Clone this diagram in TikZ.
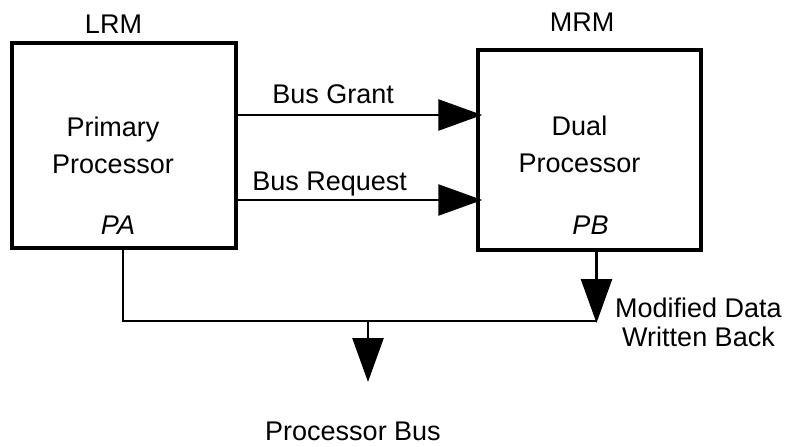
\documentclass[tikz,border=0pt]{standalone}
\usepackage{fontspec}
\setmainfont{Liberation Sans}
\usetikzlibrary{arrows.meta,positioning}

\begin{document}
\begin{tikzpicture}[x=1pt,y=-1pt,
    >={Triangle[length=44pt,width=31pt]},
    box/.style={draw,line width=3.5pt,inner sep=0pt},
    wire/.style={line width=2.6pt},
    txt/.style={font=\fontsize{27}{37}\selectfont,align=center,inner sep=0pt}]
    \useasboundingbox (0,0) rectangle (790,447);

    % the two processors
    \node[box,minimum width=224pt,minimum height=205pt] (pp) at (124,145.5) {};
    \node[box,minimum width=223pt,minimum height=200pt] (dp) at (589.5,150) {};

    \node[txt] (pptext) at ([xshift=-11pt]pp.center) {Primary\\Processor};
    \node[txt,anchor=base] (pa) at ([xshift=-6pt,yshift=15pt]pp.south) {\itshape PA};
    \node[txt,anchor=base] (lrm) at ([xshift=-10.5pt,yshift=8pt]pp.north) {LRM};

    \node[txt] (dptext) at ([xshift=-10pt,yshift=6pt]dp.center) {Dual\\Processor};
    \node[txt,anchor=base] (pb) at ([xshift=1pt,yshift=17pt]dp.south) {\itshape PB};
    \node[txt,anchor=base] (mrm) at ([xshift=-7.5pt,yshift=17pt]dp.north) {MRM};

    % handshake lines
    \coordinate (grant) at ([yshift=30.5pt]pp.east);
    \coordinate (req) at ([yshift=-54.5pt]pp.east);
    \draw[wire,->,shorten >=-6pt] (grant) -- (grant -| dp.west)
        node[txt,pos=0.4,anchor=base,yshift=12pt] {Bus Grant};
    \draw[wire,->,shorten >=-6pt] (req) -- (req -| dp.west)
        node[txt,pos=0.385,anchor=base,yshift=10pt] {Bus Request};

    % processor bus
    \coordinate (pout) at ([xshift=-1pt]pp.south);
    \coordinate (dout) at ([xshift=7pt]dp.south);
    \coordinate (busL) at (pout |- 0,321);
    \coordinate (tap) at (368,321);
    \draw[wire] (pout) -- (busL) -- (busL -| dout);
    \draw[wire,->,shorten >=-2pt] (dout) -- (busL -| dout);
    \draw[wire,->] (tap) -- ++(0,61);

    \node[txt,font=\fontsize{27}{29}\selectfont,anchor=base east] (mdw) at (782,346)
        {Modified Data\\Written Back};
    \node[txt,anchor=base] (bus) at (353,440) {Processor Bus};
\end{tikzpicture}
\end{document}
